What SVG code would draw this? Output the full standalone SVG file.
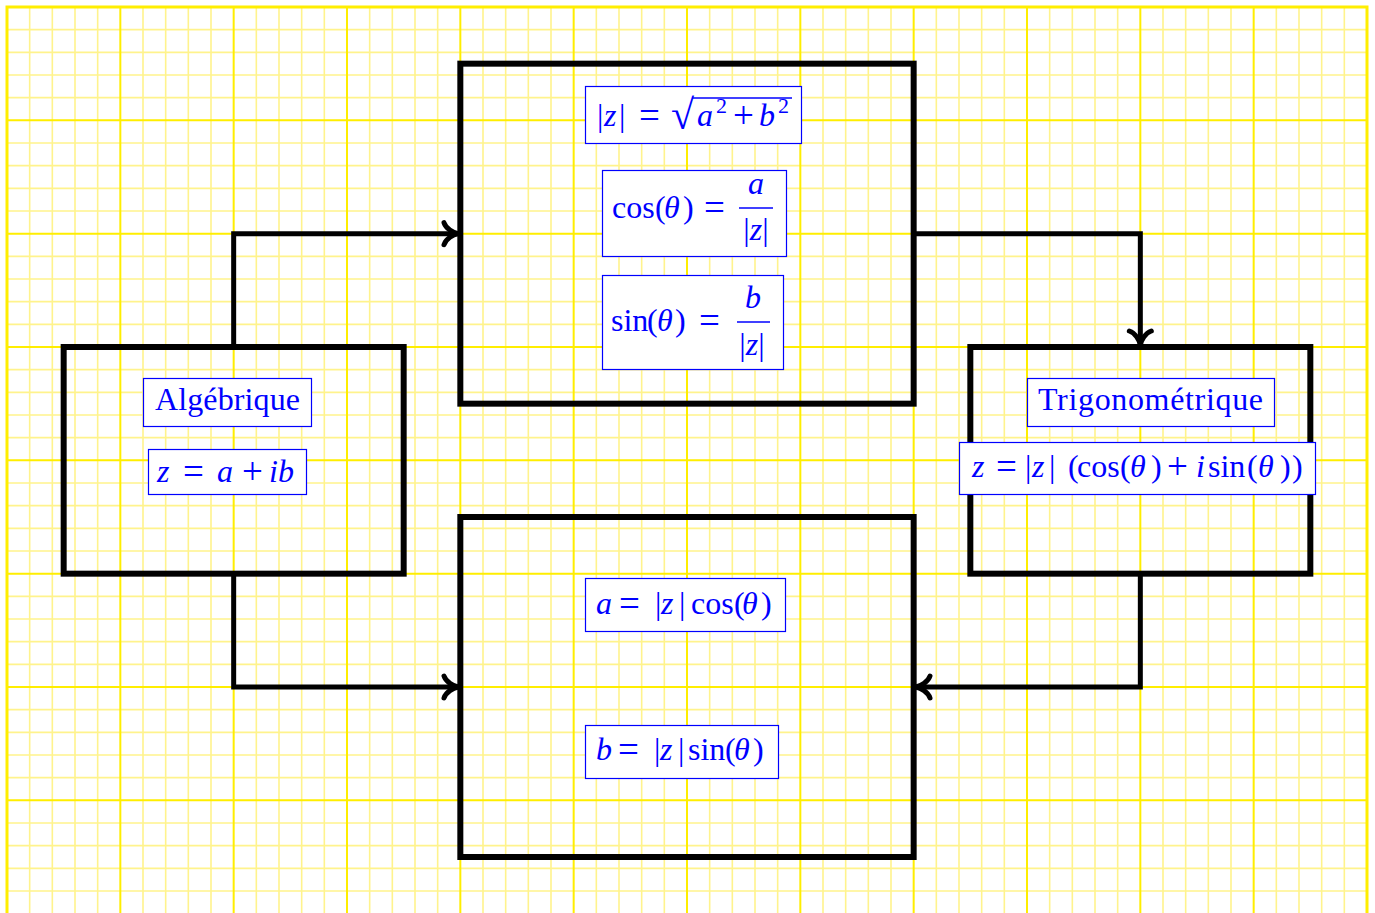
<svg xmlns="http://www.w3.org/2000/svg" width="1375" height="913" viewBox="0 0 1375 913">
  <defs>
    <style>
      .minor { fill: none; stroke: #fff38c; stroke-width: 1.6; }
      .major { fill: none; stroke: #ffee00; stroke-width: 2; }
      .edge { fill: none; stroke: #ffee00; stroke-width: 3; }
      .box { fill: none; stroke: #000; stroke-width: 6; }
      .con { fill: none; stroke: #000; stroke-width: 5; marker-end: url(#to); }
      .tb { fill: #fff; stroke: #0000ff; stroke-width: 1.2; }
      .t { font-family: "Liberation Serif", "DejaVu Serif", serif; font-size: 32px; fill: #0000ff; }
      .i { font-style: italic; }
      .s { font-size: 22px; }
      .op { font-size: 37px; }
      .rad { font-size: 42px; }
      .bar { stroke: #0000ff; stroke-width: 1.4; }
    </style>
    <marker id="to" markerUnits="userSpaceOnUse" viewBox="-20 -16 26 32" refX="0" refY="0" markerWidth="26" markerHeight="32" orient="auto" overflow="visible">
      <path d="M-14,-11 C-12,-5 -5,-1 0,0 C-5,1 -12,5 -14,11" fill="none" stroke="#000" stroke-width="5" stroke-linecap="round" stroke-linejoin="round"/>
    </marker>
  </defs>

  <rect width="1375" height="913" fill="#fff"/>

  <!-- millimetre-style grid -->
  <g id="grid">
    <path class="minor" d="M29.67 7V913M52.33 7V913M75 7V913M97.67 7V913M143 7V913M165.67 7V913M188.33 7V913M211 7V913M256.33 7V913M279 7V913M301.67 7V913M324.33 7V913M369.67 7V913M392.33 7V913M415 7V913M437.67 7V913M483 7V913M505.67 7V913M528.33 7V913M551 7V913M596.33 7V913M619 7V913M641.67 7V913M664.33 7V913M709.67 7V913M732.33 7V913M755 7V913M777.67 7V913M823 7V913M845.67 7V913M868.33 7V913M891 7V913M936.33 7V913M959 7V913M981.67 7V913M1004.33 7V913M1049.67 7V913M1072.33 7V913M1095 7V913M1117.67 7V913M1163 7V913M1185.67 7V913M1208.33 7V913M1231 7V913M1276.33 7V913M1299 7V913M1321.67 7V913M1344.33 7V913"/>
    <path class="minor" d="M7 29.67H1367M7 52.33H1367M7 75H1367M7 97.67H1367M7 143H1367M7 165.67H1367M7 188.33H1367M7 211H1367M7 256.33H1367M7 279H1367M7 301.67H1367M7 324.33H1367M7 369.67H1367M7 392.33H1367M7 415H1367M7 437.67H1367M7 483H1367M7 505.67H1367M7 528.33H1367M7 551H1367M7 596.33H1367M7 619H1367M7 641.67H1367M7 664.33H1367M7 709.67H1367M7 732.33H1367M7 755H1367M7 777.67H1367M7 823H1367M7 845.67H1367M7 868.33H1367M7 891H1367"/>
    <path class="major" d="M120.33 7V913M233.67 7V913M347 7V913M460.33 7V913M573.67 7V913M687 7V913M800.33 7V913M913.67 7V913M1027 7V913M1140.33 7V913M1253.67 7V913"/>
    <path class="major" d="M7 120.33H1367M7 233.67H1367M7 347H1367M7 460.33H1367M7 573.67H1367M7 687H1367M7 800.33H1367"/>
    <path class="edge" d="M7 913V7H1367V913"/>
  </g>

  <!-- connectors -->
  <g id="connectors">
    <path class="con" d="M233.67 347V233.67H458"/>
    <path class="con" d="M913.67 233.67H1140.33V345"/>
    <path class="con" d="M233.67 573.67V687H458"/>
    <path class="con" d="M1140.33 573.67V687H916"/>
  </g>

  <!-- algebraic form -->
  <g id="algebrique">
    <rect class="box" x="63.67" y="347" width="340" height="226.67"/>
    <rect class="tb" x="143.5" y="378.5" width="168" height="48"/>
    <text class="t" x="227.5" y="410" text-anchor="middle" textLength="145">Algébrique</text>
    <rect class="tb" x="148.5" y="449.5" width="158" height="45"/>
    <text class="t" y="482"><tspan class="i" x="157">z</tspan><tspan class="op" x="183" dy="2">=</tspan><tspan class="i" x="217" dy="-2">a</tspan><tspan class="op" x="242" dy="2">+</tspan><tspan class="i" x="269" dy="-2">ib</tspan></text>
  </g>

  <!-- modulus and angle -->
  <g id="module-argument">
    <rect class="box" x="460.33" y="63.67" width="453.33" height="340"/>
    <rect class="tb" x="585.5" y="86.5" width="216" height="57"/>
    <text class="t" y="126"><tspan x="597">|</tspan><tspan class="i" x="604">z</tspan><tspan x="619">|</tspan><tspan class="op" x="639" dy="2">=</tspan><tspan class="rad" x="671" dy="1">√</tspan><tspan class="i" x="697" dy="-3">a</tspan><tspan class="s" x="716" dy="-13">2</tspan><tspan class="op" x="733" dy="15">+</tspan><tspan class="i" x="759" dy="-2">b</tspan><tspan class="s" x="778" dy="-13">2</tspan></text>
    <line class="bar" x1="692" y1="98" x2="792" y2="98"/>

    <rect class="tb" x="602.5" y="170.5" width="184" height="86"/>
    <text class="t" y="218"><tspan x="612">cos</tspan><tspan x="655">(</tspan><tspan class="i" x="664">θ</tspan><tspan x="683">)</tspan><tspan class="op" x="704" dy="2">=</tspan></text>
    <text class="t i" x="756" y="194" text-anchor="middle">a</text>
    <line class="bar" x1="739" y1="208" x2="773" y2="208"/>
    <text class="t" x="756" y="240" text-anchor="middle">|<tspan class="i">z</tspan>|</text>

    <rect class="tb" x="602.5" y="275.5" width="181" height="94"/>
    <text class="t" y="331"><tspan x="611">sin</tspan><tspan x="647">(</tspan><tspan class="i" x="657">θ</tspan><tspan x="675">)</tspan><tspan class="op" x="699" dy="2">=</tspan></text>
    <text class="t i" x="753" y="308" text-anchor="middle">b</text>
    <line class="bar" x1="737" y1="322" x2="770" y2="322"/>
    <text class="t" x="752" y="355" text-anchor="middle">|<tspan class="i">z</tspan>|</text>
  </g>

  <!-- trigonometric form -->
  <g id="trigonometrique">
    <rect class="box" x="970.33" y="347" width="340" height="226.67"/>
    <rect class="tb" x="1027.5" y="378.5" width="247" height="48"/>
    <text class="t" x="1150.5" y="410" text-anchor="middle" textLength="225">Trigonométrique</text>
    <rect class="tb" x="959.5" y="442.5" width="356" height="52"/>
    <text class="t" y="477"><tspan class="i" x="972">z</tspan><tspan class="op" x="996" dy="2">=</tspan><tspan x="1025" dy="-2">|</tspan><tspan class="i" x="1032">z</tspan><tspan x="1049">|</tspan><tspan x="1068">(</tspan><tspan x="1077">cos</tspan><tspan x="1120">(</tspan><tspan class="i" x="1130">θ</tspan><tspan x="1151">)</tspan><tspan class="op" x="1167" dy="2">+</tspan><tspan class="i" x="1196" dy="-2">i</tspan><tspan x="1208">sin</tspan><tspan x="1247">(</tspan><tspan class="i" x="1258">θ</tspan><tspan x="1280">)</tspan><tspan x="1292">)</tspan></text>
  </g>

  <!-- real and imaginary parts -->
  <g id="parties">
    <rect class="box" x="460.33" y="517" width="453.33" height="340"/>
    <rect class="tb" x="585.5" y="578.5" width="200" height="53"/>
    <text class="t" y="614"><tspan class="i" x="596">a</tspan><tspan class="op" x="619" dy="2">=</tspan><tspan x="655" dy="-2">|</tspan><tspan class="i" x="661">z</tspan><tspan x="679">|</tspan><tspan x="691">cos</tspan><tspan x="734">(</tspan><tspan class="i" x="742">θ</tspan><tspan x="761">)</tspan></text>
    <rect class="tb" x="585.5" y="725.5" width="193" height="53"/>
    <text class="t" y="760"><tspan class="i" x="596">b</tspan><tspan class="op" x="618" dy="2">=</tspan><tspan x="654" dy="-2">|</tspan><tspan class="i" x="660">z</tspan><tspan x="678">|</tspan><tspan x="688">sin</tspan><tspan x="725">(</tspan><tspan class="i" x="734">θ</tspan><tspan x="753">)</tspan></text>
  </g>
</svg>
